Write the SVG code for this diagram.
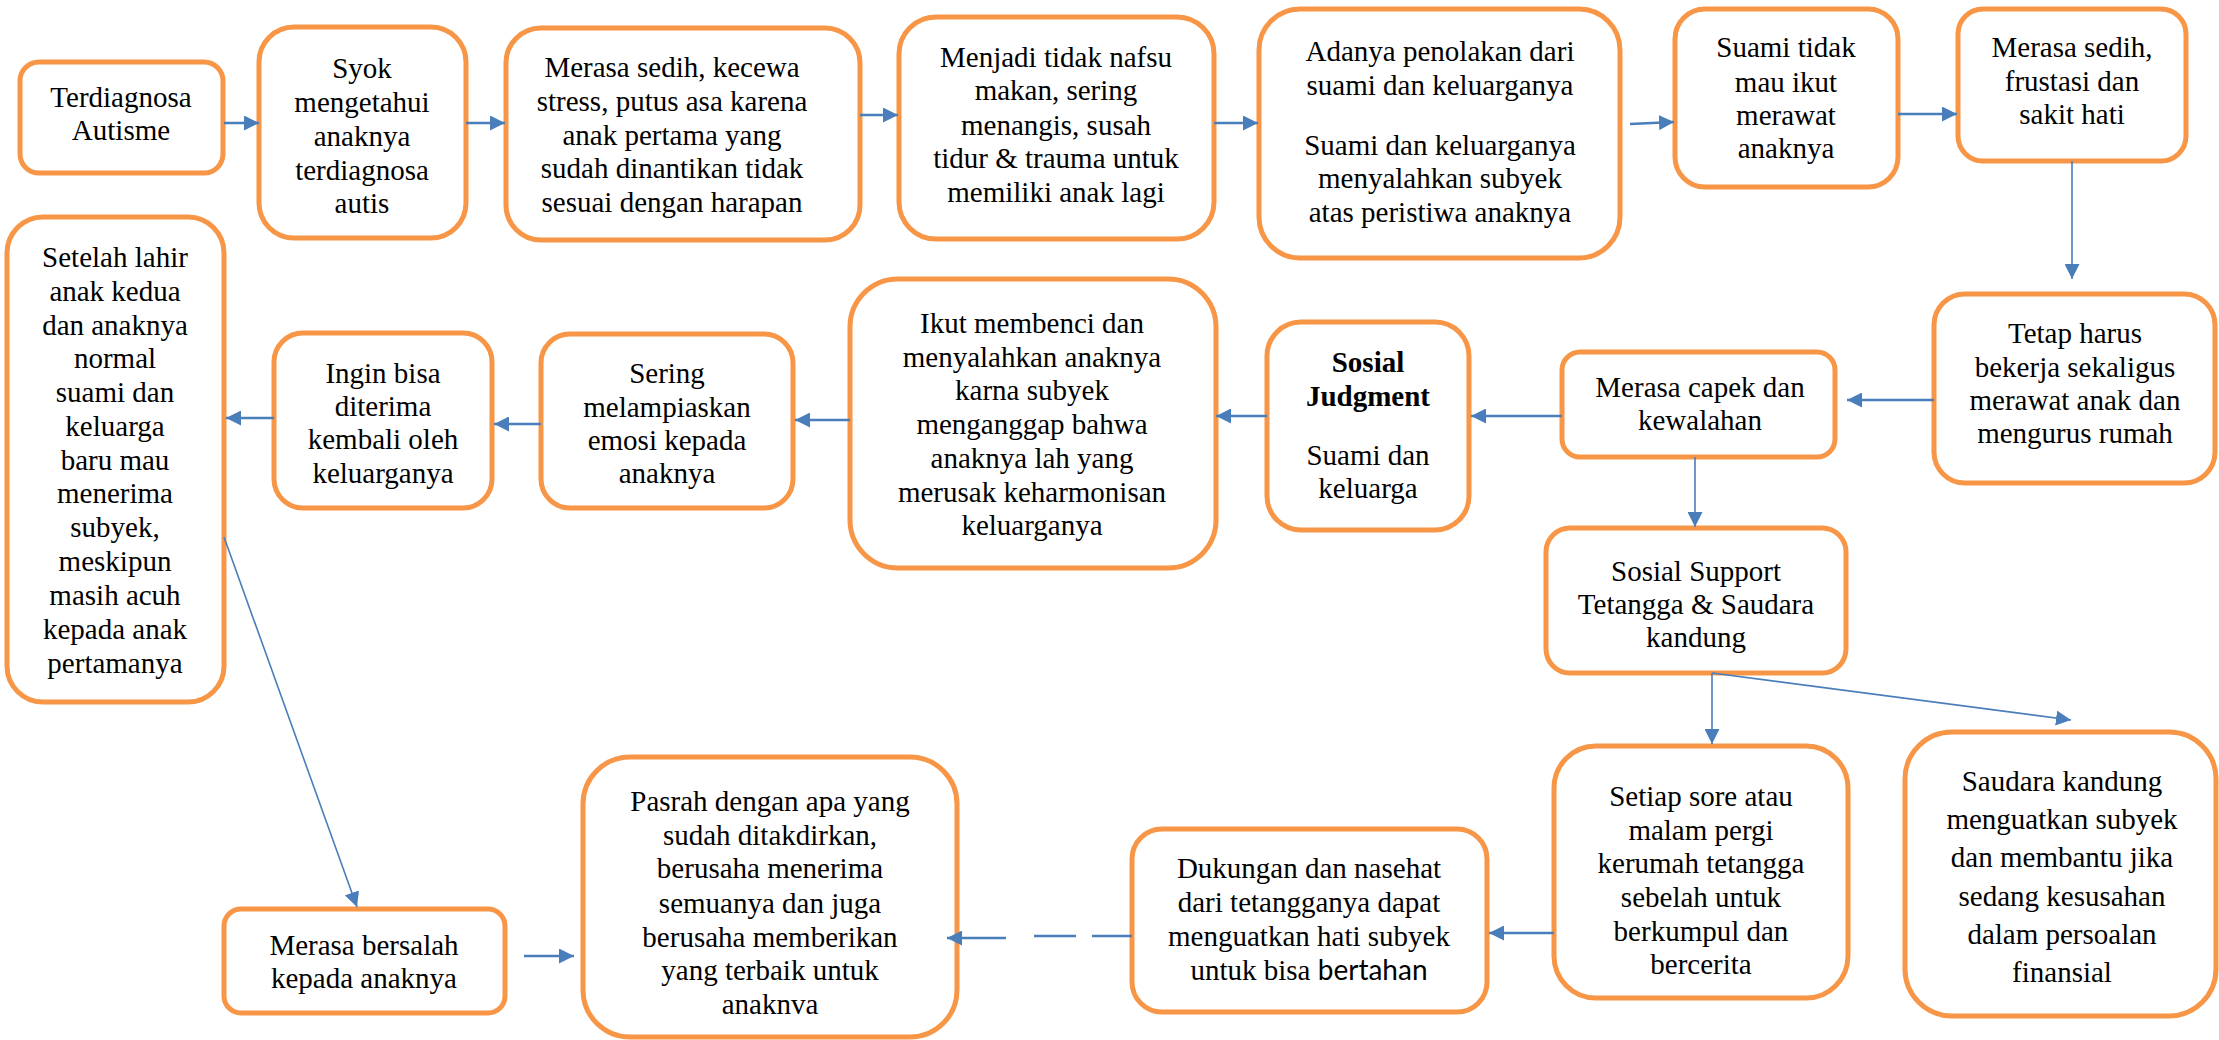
<svg xmlns="http://www.w3.org/2000/svg" width="2219" height="1040" viewBox="0 0 2219 1040">
<defs>
<style>
.box{fill:#ffffff;stroke:#F79646;stroke-width:5}
.t{font-family:"Liberation Serif","Times New Roman",serif;font-size:29px;fill:#000;text-anchor:middle}
.b{font-weight:bold}
.c{fill:none;stroke:#4A7EBB;stroke-width:2.5}
.thin{stroke-width:1.6}
.arr{marker-end:url(#ah)}
</style>
<marker id="ah" markerUnits="userSpaceOnUse" markerWidth="15" markerHeight="15" refX="15" refY="7.5" orient="auto">
<path d="M0,0 L15,7.5 L0,15 Z" fill="#4A7EBB"/>
</marker>
</defs>
<rect width="2219" height="1040" fill="#ffffff"/>

<g id="n1"><rect class="box" x="20" y="62" width="203" height="111" rx="19"/>
<text class="t" x="121" y="107">Terdiagnosa</text><text class="t" x="121" y="140">Autisme</text></g>

<g id="n2"><rect class="box" x="259" y="27" width="207" height="211" rx="35"/>
<text class="t" x="362" y="78">Syok</text><text class="t" x="362" y="112">mengetahui</text><text class="t" x="362" y="146">anaknya</text><text class="t" x="362" y="180">terdiagnosa</text><text class="t" x="362" y="213">autis</text></g>

<g id="n3"><rect class="box" x="506" y="28" width="354" height="212" rx="35"/>
<text class="t" x="672" y="77">Merasa sedih, kecewa</text><text class="t" x="672" y="111">stress, putus asa karena</text><text class="t" x="672" y="145">anak pertama yang</text><text class="t" x="672" y="178">sudah dinantikan tidak</text><text class="t" x="672" y="212">sesuai dengan harapan</text></g>

<g id="n4"><rect class="box" x="899" y="17" width="315" height="222" rx="37"/>
<text class="t" x="1056" y="67">Menjadi tidak nafsu</text><text class="t" x="1056" y="100">makan, sering</text><text class="t" x="1056" y="135">menangis, susah</text><text class="t" x="1056" y="168">tidur &amp; trauma untuk</text><text class="t" x="1056" y="202">memiliki anak lagi</text></g>

<g id="n5"><rect class="box" x="1259" y="9" width="361" height="249" rx="41"/>
<text class="t" x="1440" y="61">Adanya penolakan dari</text><text class="t" x="1440" y="95">suami dan keluarganya</text><text class="t" x="1440" y="155">Suami dan keluarganya</text><text class="t" x="1440" y="188">menyalahkan subyek</text><text class="t" x="1440" y="222">atas peristiwa anaknya</text></g>

<g id="n6"><rect class="box" x="1675" y="9" width="223" height="178" rx="30"/>
<text class="t" x="1786" y="57">Suami tidak</text><text class="t" x="1786" y="92">mau ikut</text><text class="t" x="1786" y="125">merawat</text><text class="t" x="1786" y="158">anaknya</text></g>

<g id="n7"><rect class="box" x="1958" y="9" width="228" height="152" rx="25"/>
<text class="t" x="2072" y="57">Merasa sedih,</text><text class="t" x="2072" y="91">frustasi dan</text><text class="t" x="2072" y="124">sakit hati</text></g>

<g id="n8"><rect class="box" x="1934" y="294" width="281" height="189" rx="31"/>
<text class="t" x="2075" y="343">Tetap harus</text><text class="t" x="2075" y="377">bekerja sekaligus</text><text class="t" x="2075" y="410">merawat anak dan</text><text class="t" x="2075" y="443">mengurus rumah</text></g>

<g id="n9"><rect class="box" x="1562" y="352" width="273" height="105" rx="18"/>
<text class="t" x="1700" y="397">Merasa capek dan</text><text class="t" x="1700" y="430">kewalahan</text></g>

<g id="n10"><rect class="box" x="1267" y="322" width="202" height="208" rx="34"/>
<text class="t b" x="1368" y="372">Sosial</text><text class="t b" x="1368" y="406">Judgment</text><text class="t" x="1368" y="465">Suami dan</text><text class="t" x="1368" y="498">keluarga</text></g>

<g id="n11"><rect class="box" x="850" y="279" width="366" height="289" rx="48"/>
<text class="t" x="1032" y="333">Ikut membenci dan</text><text class="t" x="1032" y="367">menyalahkan anaknya</text><text class="t" x="1032" y="400">karna subyek</text><text class="t" x="1032" y="434">menganggap bahwa</text><text class="t" x="1032" y="468">anaknya lah yang</text><text class="t" x="1032" y="502">merusak keharmonisan</text><text class="t" x="1032" y="535">keluarganya</text></g>

<g id="n12"><rect class="box" x="541" y="334" width="252" height="174" rx="29"/>
<text class="t" x="667" y="383">Sering</text><text class="t" x="667" y="417">melampiaskan</text><text class="t" x="667" y="450">emosi kepada</text><text class="t" x="667" y="483">anaknya</text></g>

<g id="n13"><rect class="box" x="274" y="333" width="218" height="175" rx="29"/>
<text class="t" x="383" y="383">Ingin bisa</text><text class="t" x="383" y="416">diterima</text><text class="t" x="383" y="449">kembali oleh</text><text class="t" x="383" y="483">keluarganya</text></g>

<g id="n14"><rect class="box" x="7" y="217" width="217" height="485" rx="36"/>
<text class="t" x="115" y="267">Setelah lahir</text><text class="t" x="115" y="301">anak kedua</text><text class="t" x="115" y="335">dan anaknya</text><text class="t" x="115" y="368">normal</text><text class="t" x="115" y="402">suami dan</text><text class="t" x="115" y="436">keluarga</text><text class="t" x="115" y="470">baru mau</text><text class="t" x="115" y="503">menerima</text><text class="t" x="115" y="537">subyek,</text><text class="t" x="115" y="571">meskipun</text><text class="t" x="115" y="605">masih acuh</text><text class="t" x="115" y="639">kepada anak</text><text class="t" x="115" y="673">pertamanya</text></g>

<g id="n15"><rect class="box" x="1546" y="528" width="300" height="145" rx="24"/>
<text class="t" x="1696" y="581">Sosial Support</text><text class="t" x="1696" y="614">Tetangga &amp; Saudara</text><text class="t" x="1696" y="647">kandung</text></g>

<g id="n16"><rect class="box" x="1554" y="746" width="294" height="252" rx="42"/>
<text class="t" x="1701" y="806">Setiap sore atau</text><text class="t" x="1701" y="840">malam pergi</text><text class="t" x="1701" y="873">kerumah tetangga</text><text class="t" x="1701" y="907">sebelah untuk</text><text class="t" x="1701" y="941">berkumpul dan</text><text class="t" x="1701" y="974">bercerita</text></g>

<g id="n17"><rect class="box" x="1905" y="732" width="311" height="284" rx="47"/>
<text class="t" x="2062" y="791">Saudara kandung</text><text class="t" x="2062" y="829">menguatkan subyek</text><text class="t" x="2062" y="867">dan membantu jika</text><text class="t" x="2062" y="906">sedang kesusahan</text><text class="t" x="2062" y="944">dalam persoalan</text><text class="t" x="2062" y="982">finansial</text></g>

<g id="n18"><rect class="box" x="1132" y="829" width="355" height="183" rx="30"/>
<text class="t" x="1309" y="878">Dukungan dan nasehat</text><text class="t" x="1309" y="912">dari tetangganya dapat</text><text class="t" x="1309" y="946">menguatkan hati subyek</text><text class="t" x="1309" y="980">untuk bisa <tspan font-family="Lato, 'Open Sans', sans-serif" font-size="28">bertahan</tspan></text></g>

<g id="n19"><rect class="box" x="583" y="757" width="374" height="280" rx="47"/>
<text class="t" x="770" y="811">Pasrah dengan apa yang</text><text class="t" x="770" y="845">sudah ditakdirkan,</text><text class="t" x="770" y="878">berusaha menerima</text><text class="t" x="770" y="913">semuanya dan juga</text><text class="t" x="770" y="947">berusaha memberikan</text><text class="t" x="770" y="980">yang terbaik untuk</text><text class="t" x="770" y="1014">anaknva</text></g>

<g id="n20"><rect class="box" x="224" y="909" width="281" height="104" rx="17"/>
<text class="t" x="364" y="955">Merasa bersalah</text><text class="t" x="364" y="988">kepada anaknya</text></g>

<g id="connectors">
<path class="c arr" d="M224,123 H259"/>
<path class="c arr" d="M466,123 H505"/>
<path class="c arr" d="M860,115 H898"/>
<path class="c arr" d="M1214,123 H1258"/>
<path class="c arr" d="M1630,124 L1674,122"/>
<path class="c arr" d="M1898,114 H1957"/>
<path class="c thin arr" d="M2072,161 V279"/>
<path class="c arr" d="M1934,400 H1847"/>
<path class="c arr" d="M1562,416 H1471"/>
<path class="c arr" d="M1267,416 H1216"/>
<path class="c arr" d="M850,420 H795"/>
<path class="c arr" d="M541,424 H494"/>
<path class="c arr" d="M274,418 H226"/>
<path class="c thin arr" d="M224,537 L357,907"/>
<path class="c thin arr" d="M1695,457 V527"/>
<path class="c thin arr" d="M1712,673 V744"/>
<path class="c thin arr" d="M1712,673 L2071,720"/>
<path class="c arr" d="M1554,933 H1489"/>
<path class="c" d="M1132,936 H1092 M1076,936 H1034"/>
<path class="c arr" d="M1006,938 H947"/>
<path class="c arr" d="M524,956 H574"/>
</g>
</svg>
